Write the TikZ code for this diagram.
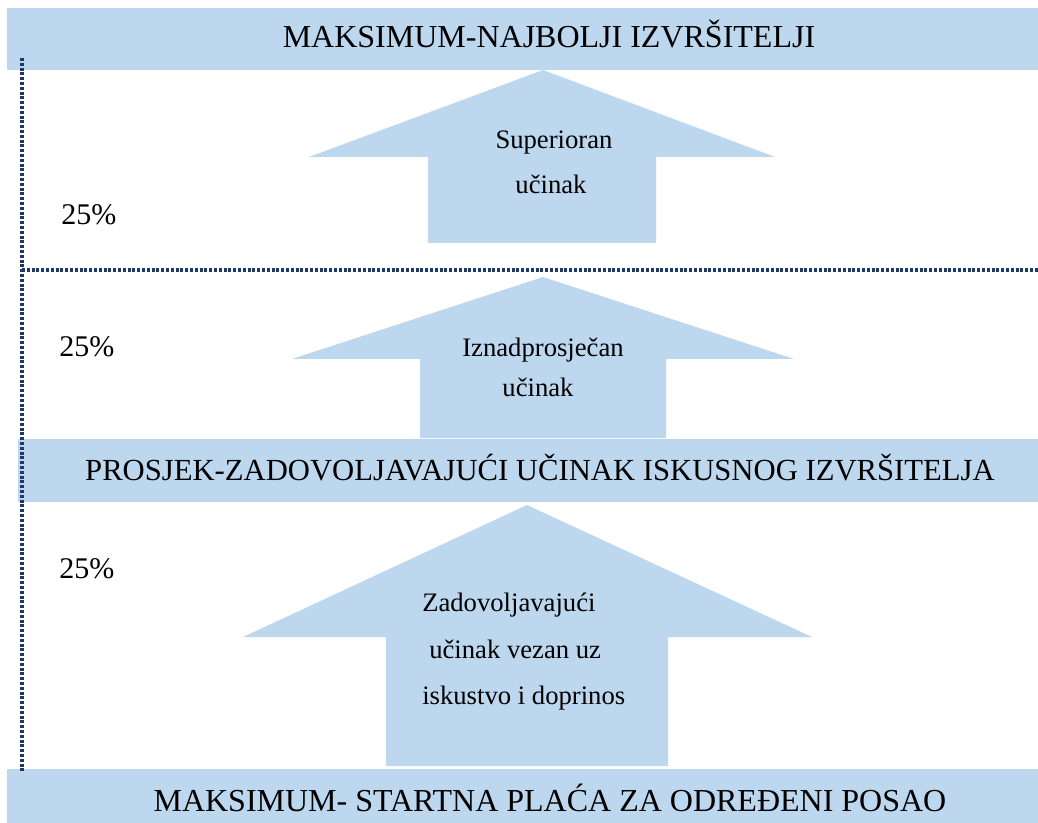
\documentclass[tikz,border=0pt]{standalone}
\usepackage{fontspec}
\setmainfont{Liberation Serif}
\definecolor{bandblue}{HTML}{BDD7EE}
\definecolor{dotblue}{HTML}{1F3864}
\tikzset{
  band/.style={fill=bandblue},
  bandtext/.style={anchor=base,font=\fontsize{24}{29}\selectfont},
  pct/.style={anchor=base west,inner sep=0pt,font=\fontsize{22.5}{27}\selectfont},
  arrtext/.style={anchor=base,inner sep=0pt,font=\fontsize{20}{24}\selectfont},
  dotline/.style={dotblue,line width=2.4pt,dash pattern=on 2.2pt off 1.4pt}
}
\begin{document}
\begin{tikzpicture}[x=0.75pt,y=-0.75pt]
	\useasboundingbox (0,0) rectangle (1038,823);
	% bands
	\fill[band] (7,8) rectangle (1038,70);
	\fill[band] (18,439) rectangle (1038,502);
	\fill[band] (7,769) rectangle (1038,823);
	\node (Max) at (549,48) [bandtext] {MAKSIMUM-NAJBOLJI IZVRŠITELJI};
	\node (Pro) at (540,480) [bandtext,font=\fontsize{23}{28}\selectfont] {PROSJEK-ZADOVOLJAVAJUĆI UČINAK ISKUSNOG IZVRŠITELJA};
	\node (Sta) at (550,811) [bandtext] {MAKSIMUM- STARTNA PLAĆA ZA ODREĐENI POSAO};
	% arrows
	\fill[band] (309,157) -- (543,70) -- (775,157) -- (656,157) -- (656,243) -- (428,243) -- (428,157) -- cycle;
	\fill[band] (292,359) -- (543,277) -- (794,359) -- (666,359) -- (666,438) -- (420,438) -- (420,359) -- cycle;
	\fill[band] (243,637) -- (527,505) -- (812,637) -- (668,637) -- (668,766) -- (386,766) -- (386,637) -- cycle;
	\node (Su) at (554,149) [arrtext] {Superioran};
	\node (Su2) at (551,194) [arrtext] {učinak};
	\node (Iz) at (543,356) [arrtext] {Iznadprosječan};
	\node (Iz2) at (538,397) [arrtext] {učinak};
	\node (Za) at (422,611) [arrtext,anchor=base west] {Zadovoljavajući};
	\node (Za2) at (429,658) [arrtext,anchor=base west] {učinak vezan uz};
	\node (Za3) at (422,704) [arrtext,anchor=base west] {iskustvo i doprinos};
	% percentages
	\node (P1) at (61,225) [pct] {25\%};
	\node (P2) at (59,357) [pct] {25\%};
	\node (P3) at (59,578) [pct] {25\%};
	% dotted guides
	\draw[dotline] (22,58) -- (22,772);
	\draw[dotline] (22,270) -- (1038,270);
\end{tikzpicture}
\end{document}
